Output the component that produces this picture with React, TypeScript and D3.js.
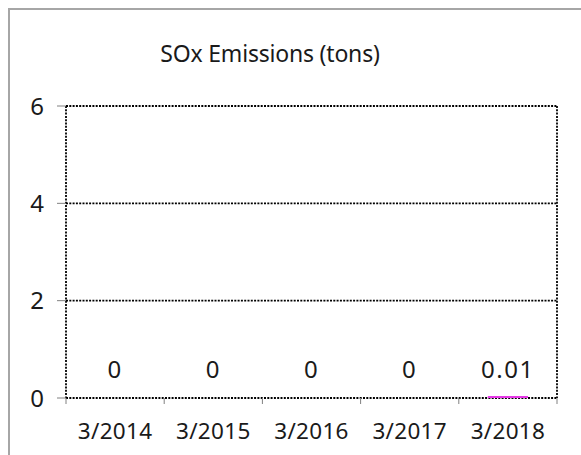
import { useEffect, useRef } from 'react';
import * as d3 from 'd3';

// chart data
const years: string[] = ['3/2014', '3/2015', '3/2016', '3/2017', '3/2018'];
const emissions: number[] = [0, 0, 0, 0, 0.01];
const yTicks: number[] = [0, 2, 4, 6];

const [width, height] = [581, 455];
const plot = { left: 66, right: 557, top: 106, bottom: 398 };
const font = '"Noto Sans", "Open Sans", sans-serif';

function App() {
    const node = useRef<SVGSVGElement | null>(null);

    useEffect(() => {
        if (!node.current) return;
        const svg = d3.select(node.current);
        svg.selectAll('*').remove();

        const x = d3.scaleBand<string>()
            .domain(years)
            .range([plot.left, plot.right])
            .paddingInner(0.59)
            .paddingOuter(0.295);
        const xOuter = d3.scaleBand<string>()
            .domain(years)
            .range([plot.left, plot.right]);
        const y = d3.scaleLinear()
            .domain([0, 6])
            .range([plot.bottom, plot.top]);

        /** card border */
        svg.append('rect')
            .attr('x', 9).attr('y', 9)
            .attr('width', 700).attr('height', 600)
            .attr('fill', '#fff')
            .attr('stroke', '#a6a6a6')
            .attr('stroke-width', 2);

        /** title */
        svg.append('text')
            .attr('x', 270).attr('y', 62)
            .attr('text-anchor', 'middle')
            .attr('font-family', font)
            .attr('font-size', 23)
            .attr('letter-spacing', -0.2)
            .attr('fill', '#1a1a1a')
            .text('SOx Emissions (tons)');

        const dotted = (sel: any) => sel
            .attr('stroke', '#000')
            .attr('stroke-width', 1.8)
            .attr('stroke-dasharray', '2,1.3')
            .attr('fill', 'none');

        /** grid lines */
        svg.append('g').selectAll('line')
            .data(yTicks)
            .enter()
            .append('line')
            .attr('x1', plot.left).attr('x2', plot.right)
            .attr('y1', d => y(d)).attr('y2', d => y(d))
            .call(dotted);

        /** plot edges */
        svg.append('line')
            .attr('x1', plot.left).attr('x2', plot.left)
            .attr('y1', plot.top).attr('y2', plot.bottom)
            .call(dotted);
        svg.append('line')
            .attr('x1', plot.right).attr('x2', plot.right)
            .attr('y1', plot.top).attr('y2', plot.bottom)
            .call(dotted);

        /** y ticks + labels */
        const yAxis = svg.append('g');
        yAxis.selectAll('line')
            .data(yTicks)
            .enter()
            .append('line')
            .attr('x1', plot.left - 9).attr('x2', plot.left)
            .attr('y1', d => y(d)).attr('y2', d => y(d))
            .attr('stroke', '#808080').attr('stroke-width', 1);
        yAxis.selectAll('text')
            .data(yTicks)
            .enter()
            .append('text')
            .attr('x', 44)
            .attr('y', d => y(d))
            .attr('dy', '0.36em')
            .attr('text-anchor', 'end')
            .attr('font-family', font)
            .attr('font-size', 24)
            .attr('fill', '#1a1a1a')
            .text(d => d);

        /** x ticks + labels */
        const xAxis = svg.append('g');
        const tickPos = years.map(d => xOuter(d) as number).concat([plot.right]);
        xAxis.selectAll('line')
            .data(tickPos)
            .enter()
            .append('line')
            .attr('x1', d => d).attr('x2', d => d)
            .attr('y1', plot.bottom).attr('y2', plot.bottom + 6)
            .attr('stroke', '#808080').attr('stroke-width', 1);
        xAxis.selectAll('text')
            .data(years)
            .enter()
            .append('text')
            .attr('x', d => (x(d) as number) + x.bandwidth() / 2)
            .attr('y', 439)
            .attr('text-anchor', 'middle')
            .attr('font-family', font)
            .attr('font-size', 22.5)
            .attr('letter-spacing', 0.3)
            .attr('fill', '#1a1a1a')
            .text(d => d);

        /** bars */
        svg.append('g').selectAll('rect')
            .data(emissions)
            .enter()
            .append('rect')
            .attr('x', (d, i) => x(years[i]) as number)
            .attr('y', d => y(d) - 1.5)
            .attr('width', x.bandwidth())
            .attr('height', d => (d > 0 ? plot.bottom - y(d) + 1.5 : 0))
            .attr('fill', '#e636e6');

        /** data labels */
        svg.append('g').selectAll('text')
            .data(emissions)
            .enter()
            .append('text')
            .attr('x', (d, i) => (x(years[i]) as number) + x.bandwidth() / 2)
            .attr('y', 378)
            .attr('text-anchor', 'middle')
            .attr('font-family', font)
            .attr('font-size', 24)
            .attr('letter-spacing', 1.5)
            .attr('fill', '#1a1a1a')
            .text(d => String(d));
    }, [node]);

    return (
        <svg ref={node} width={width} height={height}
            style={{ position: 'fixed', left: 0, top: 0 }}></svg>
    );
}

export default App;
